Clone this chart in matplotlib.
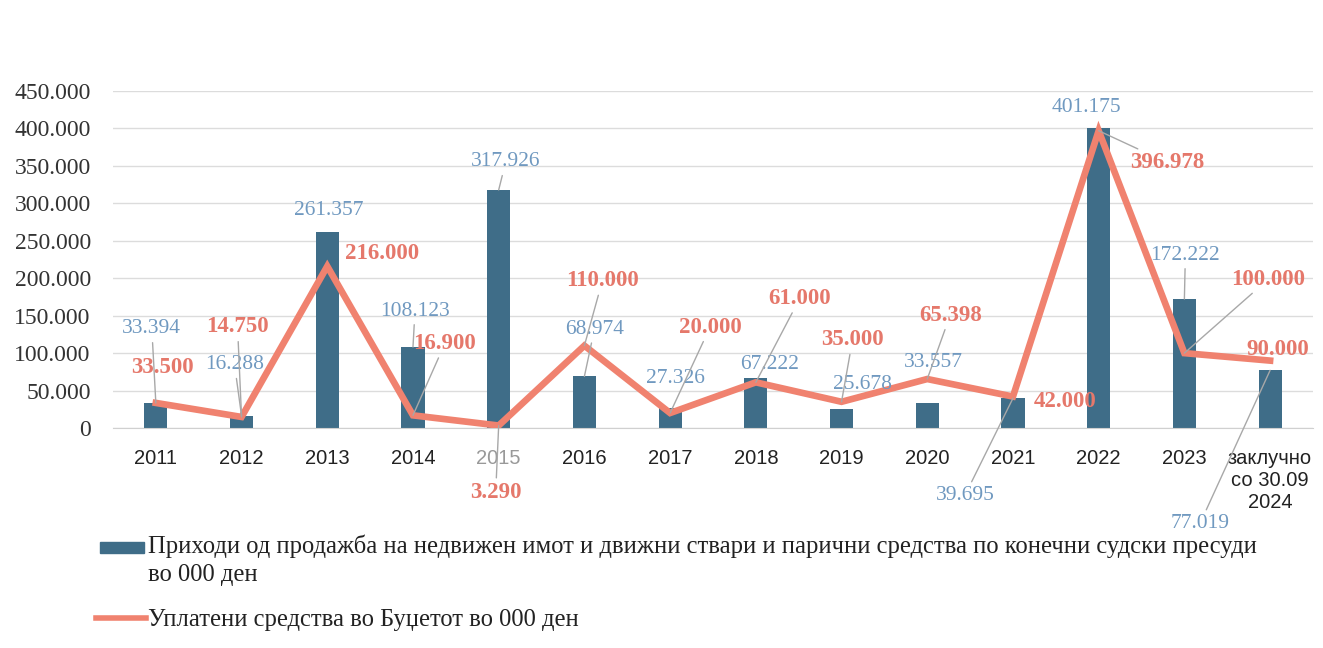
import matplotlib.pyplot as plt
import numpy as np
from matplotlib.patches import Rectangle
from matplotlib.lines import Line2D
from matplotlib.ticker import FuncFormatter

years = ['2011', '2012', '2013', '2014', '2015', '2016', '2017', '2018',
         '2019', '2020', '2021', '2022', '2023', 'заклучно\nсо 30.09\n2024']
income = [33394, 16288, 261357, 108123, 317926, 68974, 27326, 67222,
          25678, 33557, 39695, 401175, 172222, 77019]
paid = [33500, 14750, 216000, 16900, 3290, 110000, 20000, 61000,
        35000, 65398, 42000, 396978, 100000, 90000]

income_name = ('Приходи од продажба на недвижен имот и движни ствари и парични '
               'средства по конечни судски пресуди\nво 000 ден')
paid_name = 'Уплатени средства во Буџетот во 000 ден'

# label offsets from the data point (pixels) and leader-line flags
bar_off = [(-4, 74), (-7, 51), (1, 22), (2, 36), (7, 28), (10, 47), (5, 29),
           (14, 13), (21, 24), (6, 40), (-48, -97), (-12, 20), (1, 44), (-70, -153)]
bar_lead = [1, 1, 0, 1, 1, 1, 0, 0, 0, 0, 1, 0, 1, 1]
line_off = [(7, 35), (-4, 90), (55, 13), (32, 72), (-3, -67), (18, 65), (40, 86),
            (44, 84), (11, 62), (23, 64), (52, -5), (69, -32), (84, 74), (8, 11)]
line_lead = [0, 1, 0, 1, 1, 1, 1, 1, 1, 1, 0, 1, 1, 0]

bar_color = '#3f6d88'
line_color = '#f0826f'
bar_text = '#7099c0'
line_text = '#e5786b'
lead_color = '#a8a8a8'
serif = 'Liberation Serif'

def fmt(v, pos=None):
    return f'{v:,.0f}'.replace(',', '.')

fig = plt.figure(figsize=(13.23, 6.48), dpi=100)
ax = fig.add_axes([0.0854, 0.3395, 0.907, 0.520])
x = np.arange(len(years))

ax.bar(x, income, width=0.27, color=bar_color, zorder=2)
ax.plot(x, paid, color=line_color, lw=4.8, zorder=3, solid_joinstyle='miter')

for i in range(len(years)):
    ax.annotate(fmt(income[i]), (x[i], income[i]), xytext=bar_off[i],
                textcoords='offset pixels', ha='center', va='center',
                fontsize=15.5, family=serif, color=bar_text, zorder=5,
                arrowprops=dict(arrowstyle='-', color=lead_color, lw=1,
                                shrinkA=1, shrinkB=0) if bar_lead[i] else None)
    ax.annotate(fmt(paid[i]), (x[i], paid[i]), xytext=line_off[i],
                textcoords='offset pixels', ha='center', va='center',
                fontsize=16.5, family=serif, fontweight='bold', color=line_text, zorder=5,
                arrowprops=dict(arrowstyle='-', color=lead_color, lw=1,
                                shrinkA=1, shrinkB=0) if line_lead[i] else None)

ax.set_xlim(-0.5, len(years) - 0.5)
ax.set_ylim(0, 450000)
ax.set_yticks(np.arange(0, 450001, 50000))
ax.yaxis.set_major_formatter(FuncFormatter(fmt))
ax.set_xticks(x)
ax.set_xticklabels(years, fontsize=14.5, family='Liberation Sans', color='#222222',
                   linespacing=1.2)
ax.get_xticklabels()[4].set_color('#999999')
for lab in ax.get_yticklabels():
    lab.set_family(serif)
    lab.set_fontsize(17)
    lab.set_color('#333333')
ax.tick_params(axis='x', length=0, pad=15)
ax.tick_params(axis='y', length=0, pad=16)
ax.grid(axis='y', color='#dcdcdc', lw=1, zorder=0)
for s in ['top', 'right', 'left']:
    ax.spines[s].set_visible(False)
ax.spines['bottom'].set_color('#d0d0d0')

# legend
W, H = 1323, 648
fig.patches.append(Rectangle((100 / W, 1 - 553 / H), 44 / W, 11 / H,
                             transform=fig.transFigure, color=bar_color))
fig.text(148 / W, 1 - 535 / H, income_name, family=serif, fontsize=17.7,
         color='#222222', va='top', ha='left', linespacing=1.35)
fig.lines.append(Line2D([96 / W, 146 / W], [1 - 618 / H, 1 - 618 / H],
                        transform=fig.transFigure, color=line_color, lw=4))
fig.text(148 / W, 1 - 620 / H, paid_name, family=serif, fontsize=17.7,
         color='#222222', va='center', ha='left')

fig.savefig('out.png', dpi=100)
